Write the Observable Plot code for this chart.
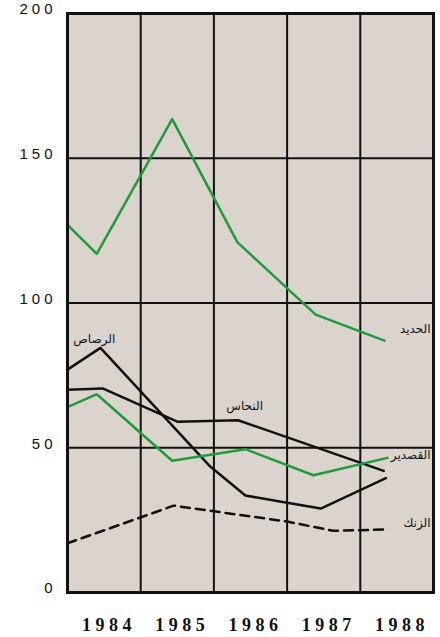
<!DOCTYPE html>
<html><head><meta charset="utf-8">
<script src="https://cdn.jsdelivr.net/npm/d3@7"></script>
<script src="https://cdn.jsdelivr.net/npm/@observablehq/plot@0.6"></script>
<style>
body{margin:0;background:#fff}
#chart svg{background:#fff}
</style>
</head><body><div id="chart"></div>
<script>
// data
const years = [1984, 1985, 1986, 1987, 1988];
const yTicks = [0, 50, 100, 150, 200];
const xGrid = [1984.5, 1985.5, 1986.5, 1987.5];
const yGrid = [50, 100, 150];

const ironX = [1983.5, 1983.9, 1984.93, 1985.82, 1986.89, 1987.83];
const ironY = [127, 117, 163.5, 121, 96, 87];

const leadX = [1983.5, 1983.95, 1985.45, 1985.93, 1986.5, 1986.96, 1987.85];
const leadY = [77, 84.5, 43.5, 33.5, 31, 29, 39.5];

const copperX = [1983.5, 1983.98, 1985.0, 1985.83, 1987.82];
const copperY = [70, 70.5, 59, 59.5, 42];

const tinX = [1983.5, 1983.9, 1984.93, 1985.93, 1986.86, 1987.87];
const tinY = [64, 68.5, 45.5, 49.5, 40.5, 46.5];

const zincX = [1983.5, 1984.95, 1986.5, 1987.13, 1987.85];
const zincY = [17, 30, 24.5, 21.3, 21.8];

const labelText = ["الحديد", "الرصاص", "النحاس", "القصدير", "الزنك"];
const labelX = [1988.46, 1983.58, 1985.92, 1988.46, 1988.46];
const labelY = [91, 87.5, 64.5, 47.5, 24];
const labelAnchor = ["end", "start", "middle", "end", "end"];

const green = "#1f9a3c";
const ink = "#111";
const pts = (xs, ys) => xs.map((x, i) => ({x, y: ys[i]}));
const labels = labelText.map((t, i) => ({t, x: labelX[i], y: labelY[i], a: labelAnchor[i]}));

const chart = Plot.plot({
  width: 440, height: 637,
  marginLeft: 67, marginRight: 7, marginTop: 13, marginBottom: 45,
  x: {type: "linear", domain: [1983.5, 1988.5], axis: null},
  y: {domain: [0, 200], axis: null},
  marks: [
    Plot.frame({fill: "#dbd4cc", stroke: null}),
    Plot.ruleX(xGrid, {stroke: ink, strokeWidth: 2}),
    Plot.ruleY(yGrid, {stroke: ink, strokeWidth: 2}),
    Plot.line(pts(zincX, zincY), {x: "x", y: "y", stroke: ink, strokeWidth: 2.5, strokeDasharray: "9,6"}),
    Plot.line(pts(copperX, copperY), {x: "x", y: "y", stroke: ink, strokeWidth: 2.5}),
    Plot.line(pts(leadX, leadY), {x: "x", y: "y", stroke: ink, strokeWidth: 2.5}),
    Plot.line(pts(tinX, tinY), {x: "x", y: "y", stroke: green, strokeWidth: 2.5}),
    Plot.line(pts(ironX, ironY), {x: "x", y: "y", stroke: green, strokeWidth: 2.5}),
    ...["start", "middle", "end"].map(a =>
      Plot.text(labels.filter(d => d.a === a), {x: "x", y: "y", text: "t", textAnchor: a,
        fontFamily: "DejaVu Sans", fontSize: 12, fill: ink})),
    Plot.frame({stroke: ink, strokeWidth: 3}),
    Plot.axisY(yTicks, {label: null, tickSize: 0, tickPadding: 11, dy: -4, fontSize: 15, fontFamily: "Liberation Sans", fill: ink, tickFormat: d => String(d)}),
    Plot.axisX(years, {label: null, tickSize: 0, tickPadding: 26, dx: 5, fontSize: 18, fontWeight: "bold", fontFamily: "Liberation Serif", fill: ink, tickFormat: d => String(d)})
  ]
});
d3.select(chart).selectAll('g[aria-label="y-axis tick label"]').style("letter-spacing", "4px");
d3.select(chart).selectAll('g[aria-label="x-axis tick label"]').style("letter-spacing", "4.5px");
document.getElementById("chart").appendChild(chart);
</script>
</body></html>
